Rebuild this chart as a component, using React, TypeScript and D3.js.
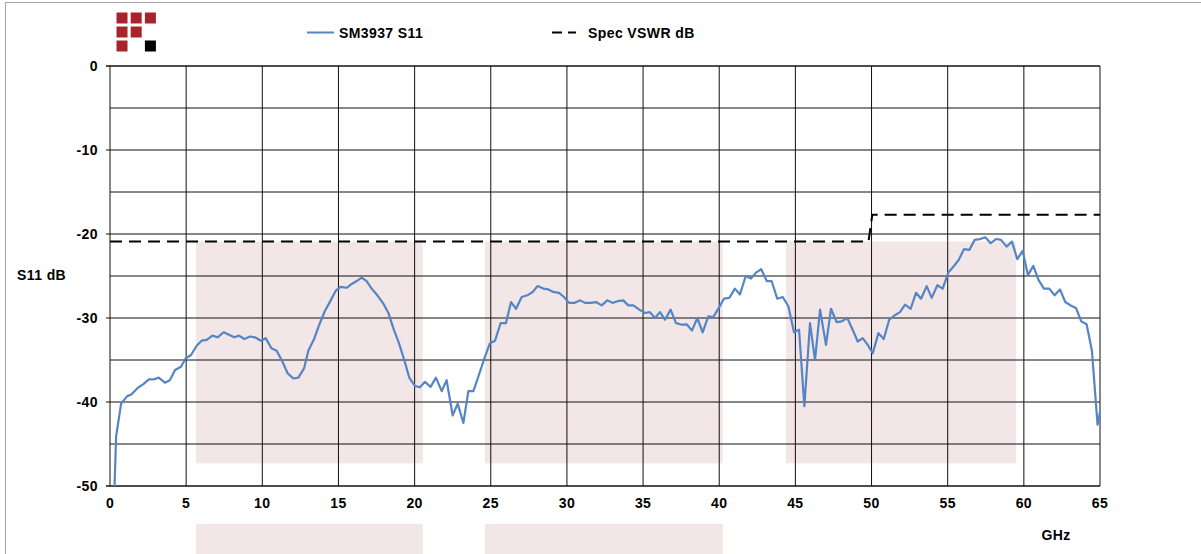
import React from "react";
import * as d3 from "d3";

const freqGHz: number[] = [
  0.3, 0.4, 0.73, 1.13, 1.4, 1.83, 2.17, 2.55, 2.9, 3.2, 3.6, 3.93, 4.27, 4.66, 4.97, 5.32, 5.69, 6.02, 6.35, 6.72,
  7.07, 7.46, 7.81, 8.16, 8.47, 8.82, 9.19, 9.52, 9.91, 10.22, 10.6, 10.94, 11.27, 11.67, 12.04, 12.37, 12.74, 13.02,
  13.4, 13.74, 14.1, 14.49, 14.84, 15.15, 15.54, 15.87, 16.2, 16.52, 16.85, 17.18, 17.55, 17.95, 18.28, 18.6, 18.97,
  19.32, 19.65, 20.03, 20.35, 20.68, 21.05, 21.4, 21.78, 22.1, 22.5, 22.83, 23.2, 23.53, 23.86, 24.29, 24.62, 24.95,
  25.28, 25.65, 26.0, 26.33, 26.66, 27.03, 27.4, 27.75, 28.08, 28.45, 28.78, 29.1, 29.48, 29.81, 30.14, 30.49, 30.86,
  31.19, 31.56, 31.91, 32.28, 32.65, 33.0, 33.33, 33.7, 34.03, 34.36, 34.75, 35.13, 35.45, 35.78, 36.11, 36.44, 36.81,
  37.16, 37.53, 37.86, 38.21, 38.56, 38.91, 39.28, 39.61, 40.0, 40.31, 40.66, 41.03, 41.36, 41.74, 42.09, 42.41, 42.76,
  43.12, 43.44, 43.81, 44.17, 44.54, 44.91, 45.24, 45.59, 45.96, 46.29, 46.62, 47.01, 47.34, 47.71, 48.04, 48.41, 48.76,
  49.09, 49.42, 49.75, 50.08, 50.45, 50.8, 51.16, 51.5, 51.87, 52.2, 52.57, 52.92, 53.25, 53.62, 53.95, 54.32, 54.67,
  55.04, 55.37, 55.72, 56.07, 56.42, 56.77, 57.12, 57.47, 57.82, 58.17, 58.5, 58.87, 59.22, 59.57, 59.92, 60.27, 60.62,
  60.97, 61.32, 61.67, 62.02, 62.37, 62.72, 63.07, 63.42, 63.77, 64.12, 64.47, 64.84, 65.0,
];

const s11dB: number[] = [
  -50, -44.1, -40.2, -39.3, -39.1, -38.3, -37.9, -37.3, -37.3, -37.1, -37.7, -37.4, -36.2, -35.8, -34.8, -34.4, -33.3,
  -32.7, -32.6, -32.1, -32.3, -31.7, -32.0, -32.3, -32.1, -32.5, -32.2, -32.3, -32.7, -32.4, -33.6, -33.9, -35, -36.6,
  -37.2, -37.1, -36.0, -33.9, -32.5, -30.8, -29.2, -27.9, -26.7, -26.3, -26.4, -25.95, -25.6, -25.2, -25.6, -26.5,
  -27.3, -28.3, -29.4, -31.2, -33, -35, -37.1, -38.1, -38.25, -37.6, -38.2, -37.1, -38.7, -37.4, -41.6, -40.2, -42.5,
  -38.7, -38.7, -36.4, -34.6, -33, -32.7, -30.6, -30.6, -28.1, -28.9, -27.5, -27.3, -26.9, -26.2, -26.5, -26.6, -26.9,
  -27.0, -27.5, -28.2, -28.2, -27.9, -28.2, -28.2, -28.1, -28.5, -27.9, -28.2, -28.0, -27.9, -28.5, -28.5, -29.0,
  -29.4, -29.3, -30.0, -29.3, -30.2, -29.0, -30.6, -30.8, -30.75, -31.5, -30.0, -31.7, -29.8, -29.9, -28.7, -27.7,
  -27.6, -26.5, -27.2, -25.0, -25.3, -24.6, -24.2, -25.6, -25.6, -27.7, -27.5, -28.6, -31.7, -31.4, -40.5, -30.6, -35,
  -29.0, -33.2, -28.9, -30.5, -30.4, -30.0, -31.4, -32.8, -32.4, -33.2, -34.2, -31.8, -32.5, -30.2, -29.7, -29.3,
  -28.4, -28.9, -27.0, -27.7, -26.2, -27.6, -26.1, -26.5, -24.6, -23.9, -23.1, -21.8, -21.9, -20.7, -20.6, -20.4,
  -21.1, -20.6, -20.7, -21.5, -20.9, -23.0, -22.0, -24.9, -23.8, -25.5, -26.5, -26.5, -27.3, -26.6, -28.1, -28.5,
  -28.8, -30.4, -30.75, -33.9, -42.7, -41.2,
];

const specFreq: number[] = [0, 49.8, 50.05, 65];
const specDB: number[] = [-20.9, -20.9, -17.7, -17.7];

const bandStart: number[] = [5.65, 24.62, 44.38];
const bandEnd: number[] = [20.53, 40.23, 59.49];
const bandTop = -20.9;
const bandBottom = -47.3;
const lowerBandCount = 2;
const lowerBandTop = -54.5;

const xTicks: number[] = [0, 5, 10, 15, 20, 25, 30, 35, 40, 45, 50, 55, 60, 65];
const yGrid: number[] = [0, -5, -10, -15, -20, -25, -30, -35, -40, -45, -50];
const yLabels: number[] = [0, -10, -20, -30, -40, -50];

const seriesName = "SM3937 S11";
const specName = "Spec VSWR dB";
const yTitle = "S11 dB";
const xTitle = "GHz";

const W = 1201;
const H = 554;
const FONT = "'Liberation Sans', Arial, sans-serif";

export default function App() {
  const x = d3.scaleLinear().domain([0, 65]).range([110, 1100]);
  const y = d3.scaleLinear().domain([-50, 0]).range([486, 66]);

  const s11 = freqGHz.map((f, i) => [f, s11dB[i]] as [number, number]);
  const spec = specFreq.map((f, i) => [f, specDB[i]] as [number, number]);
  const line = d3
    .line<[number, number]>()
    .x((d) => x(d[0]))
    .y((d) => y(d[1]));

  const logo = [
    [0, 0, "#a8242b"],
    [1, 0, "#a8242b"],
    [2, 0, "#a8242b"],
    [0, 1, "#a8242b"],
    [1, 1, "#a8242b"],
    [0, 2, "#a8242b"],
    [2, 2, "#000000"],
  ] as [number, number, string][];

  return (
    <svg
      width={W}
      height={H}
      style={{ position: "absolute", left: 0, top: 0, background: "#fff" }}
      fontFamily={FONT}
    >
      <rect x={0} y={0} width={W} height={H} fill="#fff" />
      <rect x={5.5} y={2.5} width={W + 50} height={H + 50} fill="none" stroke="#a6a6a6" strokeWidth={1} />

      {logo.map(([c, r, col], i) => (
        <rect key={i} x={116.5 + c * 14.2} y={12.5 + r * 14} width={11} height={11} fill={col} />
      ))}

      {bandStart.map((b, i) => (
        <rect
          key={"b" + i}
          x={x(b)}
          y={y(bandTop)}
          width={x(bandEnd[i]) - x(b)}
          height={y(bandBottom) - y(bandTop)}
          fill="#f2e6e6"
        />
      ))}
      {bandStart.slice(0, lowerBandCount).map((b, i) => (
        <rect
          key={"lb" + i}
          x={x(b)}
          y={y(lowerBandTop)}
          width={x(bandEnd[i]) - x(b)}
          height={H}
          fill="#f2e6e6"
        />
      ))}

      {yGrid.map((v) => (
        <line
          key={"h" + v}
          x1={v % 10 === 0 ? 106 : x(0)}
          x2={x(65)}
          y1={y(v)}
          y2={y(v)}
          stroke="#111"
          strokeWidth={v === -50 || v === 0 ? 1.5 : 1}
        />
      ))}
      {xTicks.map((v) => (
        <line key={"v" + v} x1={x(v)} x2={x(v)} y1={y(0)} y2={y(-50)} stroke="#111" strokeWidth={1} />
      ))}

      <path d={line(spec) || ""} fill="none" stroke="#000" strokeWidth={2} strokeDasharray="12,7" />
      <path d={line(s11) || ""} fill="none" stroke="#5585c5" strokeWidth={2.2} strokeLinejoin="round" />

      <g fontSize={14} fontWeight="bold" fill="#000" letterSpacing={0.4}>
        {yLabels.map((v) => (
          <text key={"yl" + v} x={98} y={y(v) + 5} textAnchor="end">
            {v}
          </text>
        ))}
        {xTicks.map((v) => (
          <text key={"xl" + v} x={x(v)} y={508} textAnchor="middle">
            {v}
          </text>
        ))}
        <text x={17} y={280}>{yTitle}</text>
        <text x={1056} y={540} textAnchor="middle">
          {xTitle}
        </text>
        <text x={339} y={37.5}>{seriesName}</text>
        <text x={588} y={37.5}>{specName}</text>
      </g>

      <line x1={307} x2={334} y1={32.5} y2={32.5} stroke="#5585c5" strokeWidth={2} />
      <line x1={552} x2={576} y1={32.5} y2={32.5} stroke="#000" strokeWidth={2} strokeDasharray="10,6" />
    </svg>
  );
}
